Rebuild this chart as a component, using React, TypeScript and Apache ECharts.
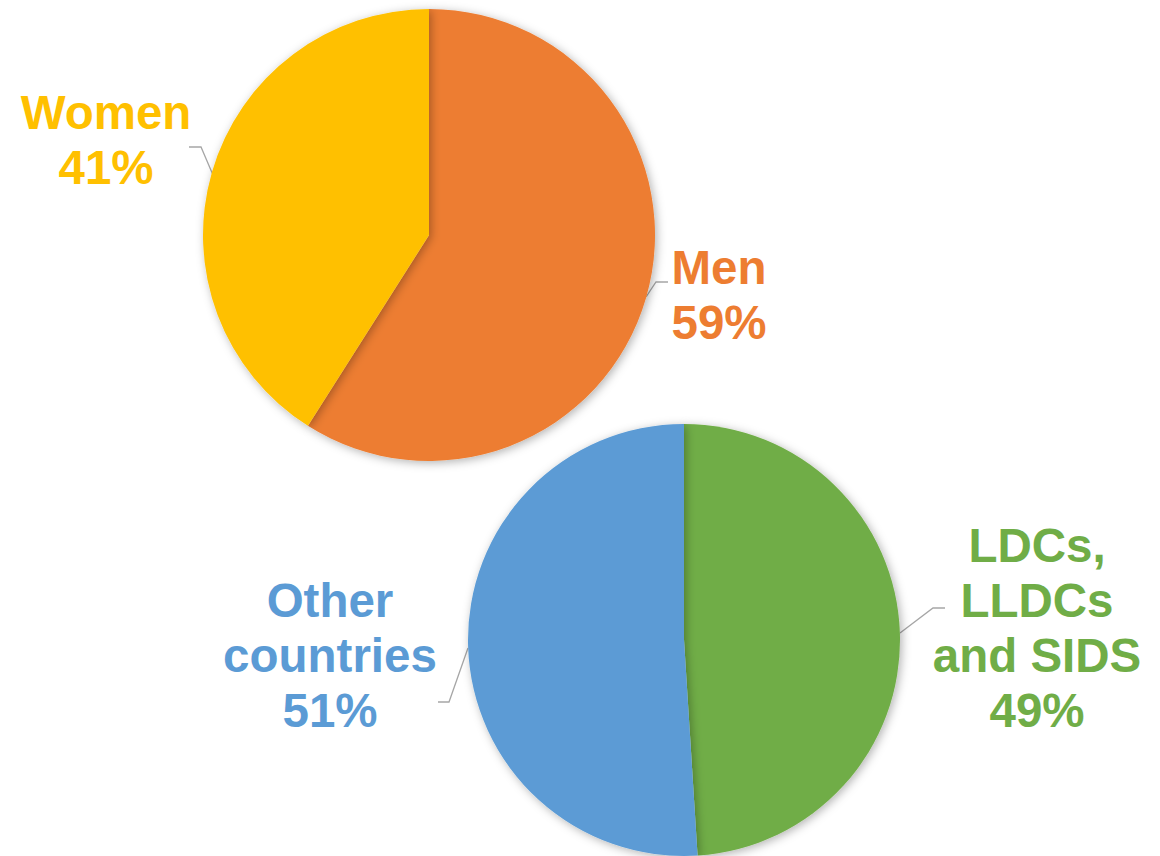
import React, { useEffect, useRef } from "react";
import * as echarts from "echarts";

const genderNames = ["Men", "Women"];
const genderValues = [59, 41];
const genderColors = ["#ED7D31", "#FFC000"];

const countryNames = ["LDCs,\nLLDCs\nand SIDS", "Other\ncountries"];
const countryValues = [49, 51];
const countryColors = ["#70AD47", "#5B9BD5"];

// label placement (layout only)
const genderLabelPos = [
  { x: 719, y: 295, line: [[646, 297], [656, 282], [668, 282]] },
  { x: 106, y: 140, line: [[213, 175], [201, 147], [189, 147]] },
];
const countryLabelPos = [
  { x: 1037, y: 628, line: [[900, 633], [933, 608], [945, 608]] },
  { x: 330, y: 655, line: [[468, 648], [449, 702], [438, 702]] },
];

export default function App() {
  const ref = useRef<HTMLDivElement>(null);
  useEffect(() => {
    document.body.style.margin = "0";
    const chart = echarts.init(ref.current!, null, { renderer: "svg" });
    const labelStyle = {
      show: true,
      position: "outside",
      formatter: "{b}\n{c}%",
      fontFamily: "Liberation Sans, Arial, sans-serif",
      fontWeight: "bold",
      fontSize: 47.5,
      lineHeight: 55,
      align: "center",
      overflow: "none",
      width: 400,
    };
    const shadow = {
      shadowBlur: 10,
      shadowColor: "rgba(0,0,0,0.3)",
      shadowOffsetX: 2,
      shadowOffsetY: 2,
    };
    const mk = (names: string[], values: number[], colors: string[]) =>
      names.map((n, i) => ({
        name: n,
        value: values[i],
        itemStyle: { color: colors[i], ...shadow },
        label: { color: colors[i] },
      }));
    const layoutFor = (pos: any[]) => (params: any) => {
      const p = pos[params.dataIndex];
      return {
        x: p.x,
        y: p.y,
        align: "center",
        verticalAlign: "middle",
        labelLinePoints: p.line,
      };
    };
    chart.setOption({
      animation: false,
      backgroundColor: "#ffffff",
      series: [
        {
          type: "pie",
          center: [429, 235],
          radius: 226,
          startAngle: 90,
          clockwise: true,
          data: mk(genderNames, genderValues, genderColors),
          label: labelStyle,
          labelLine: { show: true, lineStyle: { color: "#A6A6A6", width: 1.3 } },
          labelLayout: layoutFor(genderLabelPos),
          emphasis: { disabled: true },
        },
        {
          type: "pie",
          center: [684, 640],
          radius: 216,
          startAngle: 90,
          clockwise: true,
          data: mk(countryNames, countryValues, countryColors),
          label: labelStyle,
          labelLine: { show: true, lineStyle: { color: "#A6A6A6", width: 1.3 } },
          labelLayout: layoutFor(countryLabelPos),
          emphasis: { disabled: true },
        },
      ],
    });
    return () => chart.dispose();
  }, []);
  return <div ref={ref} style={{ width: 1160, height: 856 }} />;
}
